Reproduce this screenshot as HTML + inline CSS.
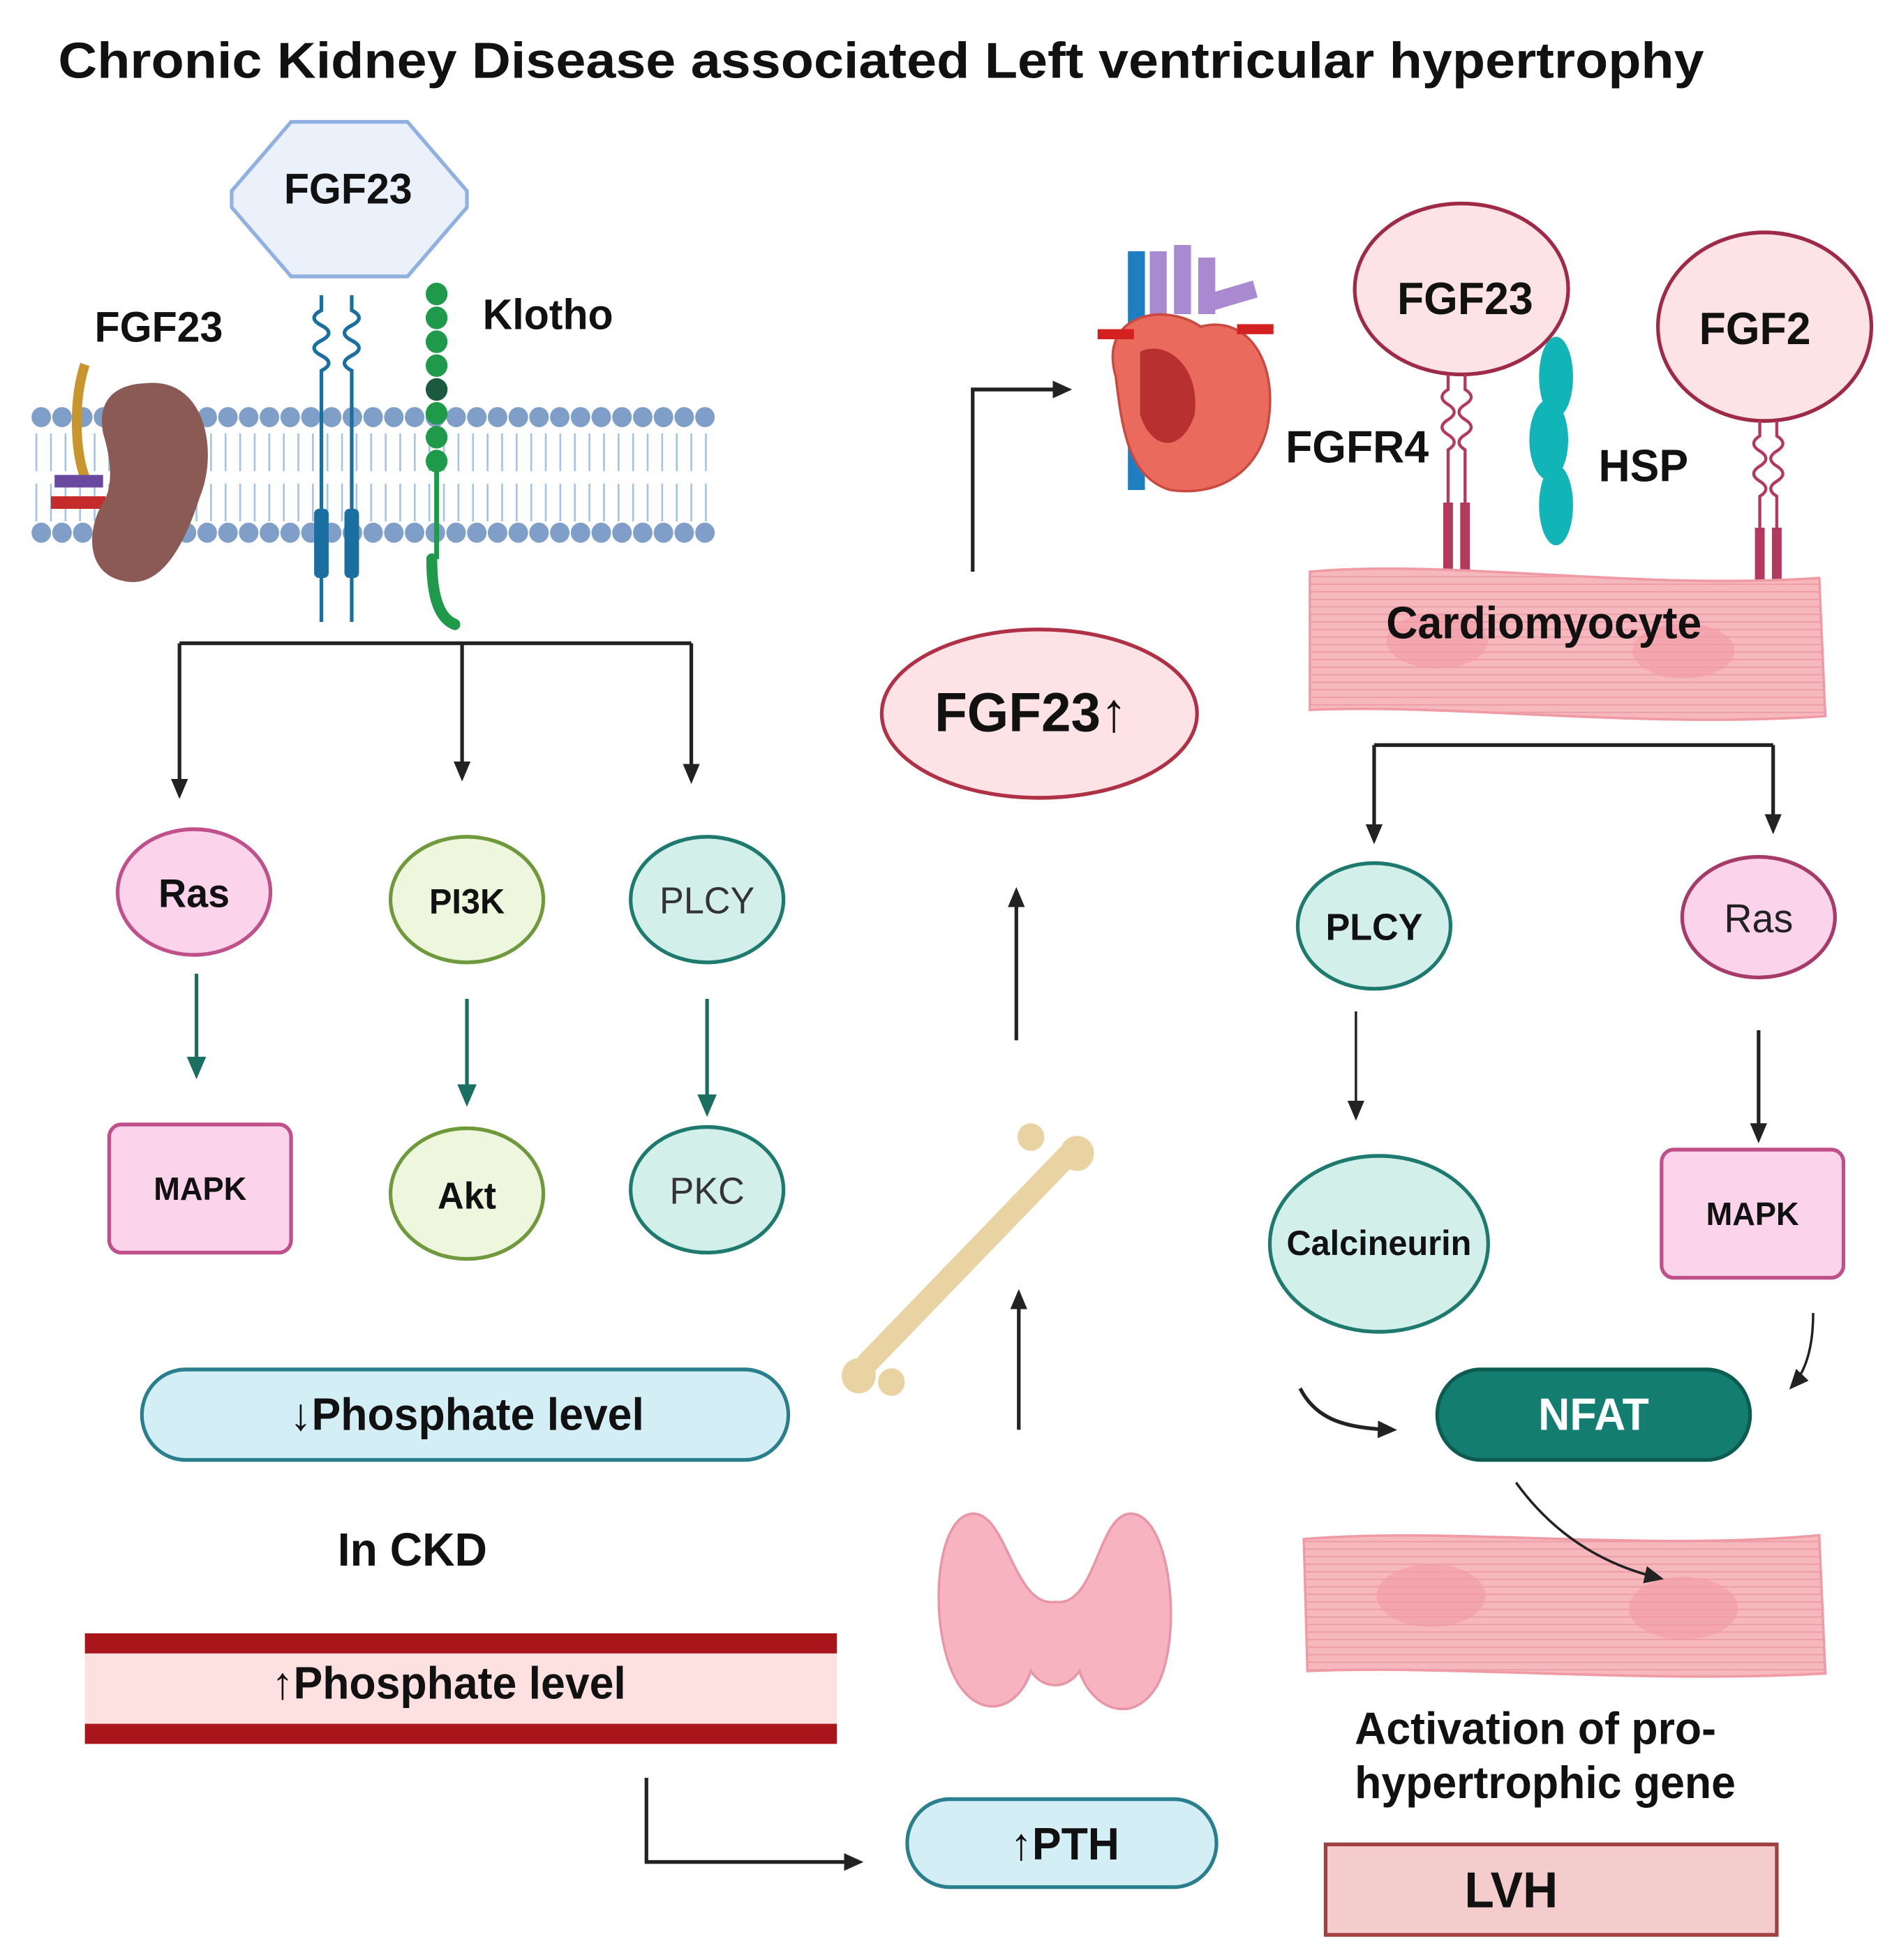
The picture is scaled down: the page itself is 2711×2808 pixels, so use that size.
<!DOCTYPE html>
<html><head><meta charset="utf-8"><style>
html,body{margin:0;padding:0;background:#fff}
svg{display:block}
text{font-family:"Liberation Sans",sans-serif;font-weight:bold;fill:#111}
</style></head><body>
<svg width="2711" height="2808" viewBox="0 0 1560 1560" preserveAspectRatio="none" xmlns="http://www.w3.org/2000/svg">
<defs>
<marker id="ab" markerWidth="16" markerHeight="16" refX="12" refY="8" orient="auto" markerUnits="userSpaceOnUse" viewBox="0 0 16 16"><path d="M0,1 L16,8 L0,15 z" fill="#222"/></marker>
<marker id="at" markerWidth="20" markerHeight="20" refX="14" refY="10" orient="auto" markerUnits="userSpaceOnUse" viewBox="0 0 20 20"><path d="M0,2 L18,10 L0,18 z" fill="#1b6e62"/></marker>
<pattern id="stripe" width="12" height="6" patternUnits="userSpaceOnUse"><rect width="12" height="6" fill="#f6b8bd"/><line x1="0" y1="3" x2="12" y2="3" stroke="#ea9aa2" stroke-width="1"/></pattern>
</defs>
<text x="48" y="62" font-size="40" textLength="1357" lengthAdjust="spacingAndGlyphs">Chronic Kidney Disease associated Left ventricular hypertrophy</text>

<polygon points="240,97 336,97 385,152 385,165 336,220 240,220 191,165 191,152" fill="#eaf1fb" stroke="#8fb0e0" stroke-width="3"/>
<text x="287" y="162" font-size="34" text-anchor="middle">FGF23</text>
<text x="78" y="272" font-size="34">FGF23</text>
<text x="398" y="262" font-size="34">Klotho</text>

<g stroke="#a5c3e6" stroke-width="1.5" fill="none">
<path d="M30,345 l0,30 M42,345 l0,30 M54,345 l0,30 M66,345 l0,30 M78,345 l0,30 M90,345 l0,30 M102,345 l0,30 M114,345 l0,30 M126,345 l0,30 M138,345 l0,30 M150,345 l0,30 M162,345 l0,30 M174,345 l0,30 M186,345 l0,30 M198,345 l0,30 M210,345 l0,30 M222,345 l0,30 M234,345 l0,30 M246,345 l0,30 M258,345 l0,30 M270,345 l0,30 M282,345 l0,30 M294,345 l0,30 M306,345 l0,30 M318,345 l0,30 M330,345 l0,30 M342,345 l0,30 M354,345 l0,30 M366,345 l0,30 M378,345 l0,30 M390,345 l0,30 M402,345 l0,30 M414,345 l0,30 M426,345 l0,30 M438,345 l0,30 M450,345 l0,30 M462,345 l0,30 M474,345 l0,30 M486,345 l0,30 M498,345 l0,30 M510,345 l0,30 M522,345 l0,30 M534,345 l0,30 M546,345 l0,30 M558,345 l0,30 M570,345 l0,30 M582,345 l0,30"/>
<path d="M30,385 l0,30 M42,385 l0,30 M54,385 l0,30 M66,385 l0,30 M78,385 l0,30 M90,385 l0,30 M102,385 l0,30 M114,385 l0,30 M126,385 l0,30 M138,385 l0,30 M150,385 l0,30 M162,385 l0,30 M174,385 l0,30 M186,385 l0,30 M198,385 l0,30 M210,385 l0,30 M222,385 l0,30 M234,385 l0,30 M246,385 l0,30 M258,385 l0,30 M270,385 l0,30 M282,385 l0,30 M294,385 l0,30 M306,385 l0,30 M318,385 l0,30 M330,385 l0,30 M342,385 l0,30 M354,385 l0,30 M366,385 l0,30 M378,385 l0,30 M390,385 l0,30 M402,385 l0,30 M414,385 l0,30 M426,385 l0,30 M438,385 l0,30 M450,385 l0,30 M462,385 l0,30 M474,385 l0,30 M486,385 l0,30 M498,385 l0,30 M510,385 l0,30 M522,385 l0,30 M534,385 l0,30 M546,385 l0,30 M558,385 l0,30 M570,385 l0,30 M582,385 l0,30"/>
</g>
<line x1="34" y1="332" x2="582" y2="332" stroke="#7f9fc8" stroke-width="16" stroke-linecap="round" stroke-dasharray="0.1 17"/>
<line x1="34" y1="424" x2="582" y2="424" stroke="#7f9fc8" stroke-width="16" stroke-linecap="round" stroke-dasharray="0.1 17"/>
<path d="M70,290 C60,320 62,360 70,380" stroke="#c9962e" stroke-width="8" fill="none"/>
<rect x="45" y="378" width="40" height="10" fill="#6a4aa0"/>
<rect x="42" y="395" width="45" height="10" fill="#c52b2b"/>
<path d="M120,305 C170,300 180,360 165,395 C150,440 130,470 100,462 C70,455 72,420 85,400 C95,385 90,360 85,345 C80,318 95,306 120,305 Z" fill="#8b5a55"/>
<g stroke="#1a6fa0" stroke-width="3" fill="none">
<path d="M265,235 v12 q-12,6 0,12 q12,6 0,12 q-12,6 0,12 q12,6 0,12 V495"/>
<path d="M290,235 v12 q12,6 0,12 q-12,6 0,12 q12,6 0,12 q-12,6 0,12 V495"/>
</g>
<rect x="259" y="405" width="12" height="55" rx="4" fill="#1a6fa0"/>
<rect x="284" y="405" width="12" height="55" rx="4" fill="#1a6fa0"/>
<g fill="#1e9a4a">
<circle cx="360" cy="234" r="9"/><circle cx="360" cy="253" r="9"/><circle cx="360" cy="272" r="9"/><circle cx="360" cy="291" r="9"/><circle cx="360" cy="310" r="9" fill="#1c5a40"/><circle cx="360" cy="329" r="9"/><circle cx="360" cy="348" r="9"/><circle cx="360" cy="367" r="9"/>
</g>
<path d="M360,375 V445" stroke="#1e9a4a" stroke-width="4" fill="none"/>
<path d="M356,445 C356,475 362,492 375,497" stroke="#1e9a4a" stroke-width="9" fill="none" stroke-linecap="round"/>

<g stroke="#222" stroke-width="3" fill="none">
<path d="M148,512 H570"/>
<path d="M148,512 V632" marker-end="url(#ab)"/>
<path d="M381,512 V618" marker-end="url(#ab)"/>
<path d="M570,512 V620" marker-end="url(#ab)"/>
</g>
<ellipse cx="160" cy="710" rx="63" ry="50" fill="#fbd3ea" stroke="#c0508a" stroke-width="3"/>
<text x="160" y="722" font-size="32" text-anchor="middle">Ras</text>
<ellipse cx="385" cy="716" rx="63" ry="50" fill="#eef7dd" stroke="#6e9a3c" stroke-width="3"/>
<text x="385" y="727" font-size="28" text-anchor="middle">PI3K</text>
<ellipse cx="583" cy="716" rx="63" ry="50" fill="#d2efe9" stroke="#1e7a6e" stroke-width="3"/>
<text x="583" y="727" font-size="30" text-anchor="middle" style="font-weight:normal;fill:#333">PLCY</text>
<g stroke="#1b6e62" stroke-width="3" fill="none">
<path d="M162,775 V855" marker-end="url(#at)"/>
<path d="M385,795 V877" marker-end="url(#at)"/>
<path d="M583,795 V885" marker-end="url(#at)"/>
</g>
<rect x="90" y="895" width="150" height="102" rx="10" fill="#fbd3ea" stroke="#c0508a" stroke-width="3"/>
<text x="165" y="955" font-size="26" text-anchor="middle">MAPK</text>
<ellipse cx="385" cy="950" rx="63" ry="52" fill="#eef7dd" stroke="#6e9a3c" stroke-width="3"/>
<text x="385" y="962" font-size="30" text-anchor="middle">Akt</text>
<ellipse cx="583" cy="947" rx="63" ry="50" fill="#d2efe9" stroke="#1e7a6e" stroke-width="3"/>
<text x="583" y="958" font-size="30" text-anchor="middle" style="font-weight:normal;fill:#333">PKC</text>

<rect x="117" y="1090" width="533" height="72" rx="36" fill="#d4eef6" stroke="#2a7f8f" stroke-width="3"/>
<text x="385" y="1138" font-size="36" text-anchor="middle">↓Phosphate level</text>
<text x="340" y="1246" font-size="37" text-anchor="middle">In CKD</text>
<rect x="70" y="1300" width="620" height="88" fill="#fde0e0"/>
<rect x="70" y="1300" width="620" height="16" fill="#a8161c"/>
<rect x="70" y="1372" width="620" height="16" fill="#a8161c"/>
<text x="370" y="1352" font-size="36" text-anchor="middle">↑Phosphate level</text>
<path d="M533,1415 V1482 H708" stroke="#222" stroke-width="3" fill="none" marker-end="url(#ab)"/>
<rect x="748" y="1432" width="255" height="70" rx="35" fill="#d4eef6" stroke="#2a7f8f" stroke-width="3"/>
<text x="878" y="1480" font-size="36" text-anchor="middle">↑PTH</text>

<path d="M800,1205 C770,1210 765,1300 790,1340 C810,1370 840,1360 850,1330 C860,1345 880,1345 890,1330 C900,1360 935,1375 955,1340 C975,1300 965,1210 935,1205 C905,1200 905,1280 870,1275 C835,1280 830,1200 800,1205 Z" fill="#f7b3c0" stroke="#e896a6" stroke-width="2"/>
<path d="M715,1085 L880,920" stroke="#e9d3a3" stroke-width="18" stroke-linecap="round"/>
<circle cx="708" cy="1095" r="14" fill="#e9d3a3"/><circle cx="888" cy="918" r="14" fill="#e9d3a3"/>
<circle cx="850" cy="905" r="11" fill="#e9d3a3"/><circle cx="735" cy="1100" r="11" fill="#e9d3a3"/>
<g stroke="#222" stroke-width="3" fill="none">
<path d="M840,1138 V1030" marker-end="url(#ab)"/>
<path d="M838,828 V710" marker-end="url(#ab)"/>
<path d="M802,455 V310 H880" marker-end="url(#ab)"/>
</g>
<ellipse cx="857" cy="568" rx="130" ry="67" fill="#fde3e6" stroke="#b03045" stroke-width="3"/>
<text x="850" y="582" font-size="44" text-anchor="middle">FGF23↑</text>

<rect x="930" y="200" width="14" height="190" fill="#1e7fc0"/>
<path d="M955,200 V250 M975,195 V250 M995,205 V250 M1000,240 L1035,230" stroke="#a98ad0" stroke-width="14" fill="none"/>
<path d="M920,300 C905,250 960,240 990,260 C1030,250 1055,290 1045,340 C1035,380 1000,395 965,390 C930,380 925,340 920,300 Z" fill="#ea6a5e" stroke="#c94a40" stroke-width="2"/>
<path d="M940,280 C960,270 990,290 985,330 C975,360 950,360 940,330 Z" fill="#b83030"/>
<rect x="905" y="262" width="30" height="8" fill="#d32020"/><rect x="1020" y="258" width="30" height="8" fill="#d32020"/>
<text x="1060" y="368" font-size="36">FGFR4</text>
<text x="1318" y="383" font-size="36">HSP</text>

<ellipse cx="1205" cy="230" rx="88" ry="68" fill="#fde3e6" stroke="#9e2a48" stroke-width="3"/>
<text x="1208" y="250" font-size="36" text-anchor="middle">FGF23</text>
<ellipse cx="1455" cy="260" rx="88" ry="75" fill="#fde3e6" stroke="#9e2a48" stroke-width="3"/>
<text x="1447" y="274" font-size="36" text-anchor="middle">FGF2</text>
<g stroke="#b3395f" stroke-width="2.5" fill="none">
<path d="M1194,298 v12 q-10,6 0,12 q10,6 0,12 q-10,6 0,12 q10,6 0,12 V455"/>
<path d="M1208,298 v12 q10,6 0,12 q-10,6 0,12 q10,6 0,12 q-10,6 0,12 V455"/>
<path d="M1451,335 v12 q-10,6 0,12 q10,6 0,12 q-10,6 0,12 q10,6 0,12 V475"/>
<path d="M1465,335 v12 q10,6 0,12 q-10,6 0,12 q10,6 0,12 q-10,6 0,12 V475"/>
</g>
<g fill="#b3395f"><rect x="1190" y="400" width="8" height="55"/><rect x="1204" y="400" width="8" height="55"/><rect x="1447" y="420" width="8" height="55"/><rect x="1461" y="420" width="8" height="55"/></g>
<g fill="#11b5b8"><ellipse cx="1283" cy="300" rx="14" ry="32"/><ellipse cx="1277" cy="350" rx="16" ry="32"/><ellipse cx="1283" cy="402" rx="14" ry="32"/></g>
<path d="M1080,455 C1200,445 1350,470 1500,460 L1505,570 C1350,580 1200,560 1080,565 Z" fill="url(#stripe)" stroke="#f09aa5" stroke-width="2"/>
<ellipse cx="1185" cy="510" rx="42" ry="22" fill="#f39aa5" opacity="0.6"/>
<ellipse cx="1388" cy="518" rx="42" ry="22" fill="#f39aa5" opacity="0.6"/>
<text x="1273" y="508" font-size="36" text-anchor="middle">Cardiomyocyte</text>

<path d="M1075,1225 C1200,1215 1350,1235 1500,1222 L1505,1332 C1350,1340 1200,1325 1078,1330 Z" fill="url(#stripe)" stroke="#f09aa5" stroke-width="2"/>
<ellipse cx="1180" cy="1270" rx="45" ry="25" fill="#f39aa5" opacity="0.6"/>
<ellipse cx="1388" cy="1280" rx="45" ry="25" fill="#f39aa5" opacity="0.6"/>

<g stroke="#222" stroke-width="3" fill="none">
<path d="M1133,593 H1462"/>
<path d="M1133,593 V668" marker-end="url(#ab)"/>
<path d="M1462,593 V660" marker-end="url(#ab)"/>
<path d="M1118,805 V888" stroke-width="2" marker-end="url(#ab)"/>
<path d="M1450,820 V906" marker-end="url(#ab)"/>
<path d="M1495,1045 C1495,1070 1490,1090 1478,1103" stroke-width="2" marker-end="url(#ab)"/>
<path d="M1072,1105 C1085,1130 1110,1137 1148,1138" marker-end="url(#ab)"/>
<path d="M1250,1180 C1280,1220 1320,1245 1368,1256" stroke-width="2" marker-end="url(#ab)"/>
</g>
<ellipse cx="1133" cy="737" rx="63" ry="50" fill="#d2efe9" stroke="#1e7a6e" stroke-width="3"/>
<text x="1133" y="748" font-size="30" text-anchor="middle">PLCY</text>
<ellipse cx="1450" cy="730" rx="63" ry="48" fill="#fbd3ea" stroke="#a63a6a" stroke-width="3"/>
<text x="1450" y="742" font-size="32" text-anchor="middle" style="font-weight:normal;fill:#222">Ras</text>
<ellipse cx="1137" cy="990" rx="90" ry="70" fill="#d2efe9" stroke="#1e7a6e" stroke-width="3"/>
<text x="1137" y="999" font-size="28" text-anchor="middle">Calcineurin</text>
<rect x="1370" y="915" width="150" height="102" rx="10" fill="#fbd3ea" stroke="#c0508a" stroke-width="3"/>
<text x="1445" y="975" font-size="26" text-anchor="middle">MAPK</text>
<rect x="1185" y="1090" width="258" height="72" rx="36" fill="#137d70" stroke="#0d5c52" stroke-width="3"/>
<text x="1314" y="1138" font-size="36" text-anchor="middle" style="fill:#fff">NFAT</text>
<text x="1117" y="1388" font-size="36">Activation of pro-</text>
<text x="1117" y="1431" font-size="36">hypertrophic gene</text>
<rect x="1093" y="1468" width="372" height="72" fill="#f4cccc" stroke="#a04040" stroke-width="3"/>
<text x="1246" y="1518" font-size="40" text-anchor="middle">LVH</text>
</svg>
</body></html>
